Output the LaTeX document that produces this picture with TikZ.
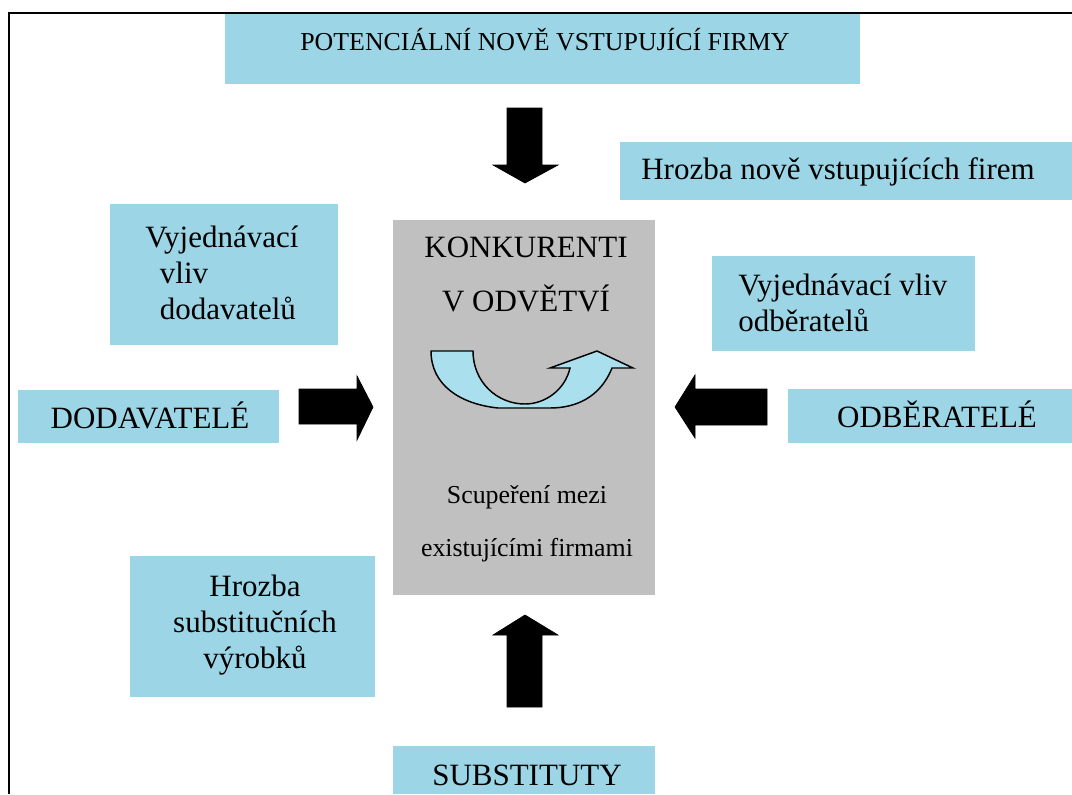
\documentclass[tikz,border=0pt]{standalone}
\usepackage{fontspec}
\setmainfont{Liberation Serif}
\definecolor{boxblue}{RGB}{156,214,230}
\definecolor{boxgrey}{RGB}{192,192,192}
\definecolor{curvecyan}{RGB}{170,224,238}
\begin{document}
\begin{tikzpicture}[x=0.75pt,y=-0.75pt,
  bluebox/.style={fill=boxblue},
  greybox/.style={fill=boxgrey},
  lbl/.style={inner sep=0pt, font=\fontsize{23.25pt}{27pt}\selectfont},
  lblsmall/.style={inner sep=0pt, font=\fontsize{19.4pt}{23pt}\selectfont},
  blockarrow/.style={fill=black, draw=black, line width=0.5pt, line join=miter},
  curvearrow/.style={fill=curvecyan, draw=black, line width=1.1pt, line join=miter}]
\useasboundingbox (0,0) rectangle (1072,794);
\fill[white] (0,0) rectangle (1072,794);
% frame
\draw[line width=1.5pt] (1072,12.5) -- (9,12.5) -- (9,794);
% boxes
\fill[bluebox] (225,14) rectangle (860,84);
\fill[bluebox] (620,142) rectangle (1072,200);
\fill[bluebox] (110,204) rectangle (338,345);
\fill[greybox] (393,220) rectangle (655,595);
\fill[bluebox] (712,256) rectangle (975,351);
\fill[bluebox] (18,390) rectangle (279,443);
\fill[bluebox] (788,389) rectangle (1072,443);
\fill[bluebox] (130,556) rectangle (375,697);
\fill[bluebox] (393,746) rectangle (655,794);
% texts
\node[lblsmall] (potencialni) at (545,40) {POTENCIÁLNÍ NOVĚ VSTUPUJÍCÍ FIRMY};
\node[lbl] (hrozbanove) at (838,172) {Hrozba nově vstupujících firem};
\node[lbl, anchor=west, align=left] (vlivdod) at (145,273) {Vyjednávací\\\hspace*{11pt}vliv\\\hspace*{11pt}dodavatelů};
\node[lbl] (konk1) at (526,247) {KONKURENTI};
\node[lbl] (konk2) at (526,298) {V ODVĚTVÍ};
\node[lbl, anchor=west, align=left] (vlivodb) at (738,303) {Vyjednávací vliv\\odběratelů};
\node[lbl] (dodavatele) at (150,415) {DODAVATELÉ};
\node[lbl] (odberatele) at (937,414) {ODBĚRATELÉ};
\node[lblsmall] (scup1) at (527,497) {Scupeření mezi};
\node[lblsmall] (scup2) at (527,550) {existujícími firmami};
\node[lbl, align=center] (substhrozba) at (255,625) {Hrozba\\substitučních\\výrobků};
\node[lbl] (substituty) at (527,775) {SUBSTITUTY};
% block arrows
\fill[blockarrow] (299,389) -- (357,389) -- (357,376) -- (373,407) -- (357,440) -- (357,424) -- (299,424) -- cycle;
\fill[blockarrow] (767,389) -- (695,389) -- (695,375) -- (675,407) -- (695,438) -- (695,425) -- (767,425) -- cycle;
\fill[blockarrow] (507,108) -- (542,108) -- (542,165) -- (558,165) -- (525,183) -- (493,165) -- (507,165) -- cycle;
\fill[blockarrow] (507,707) -- (542,707) -- (542,635) -- (558,635) -- (525,615) -- (493,635) -- (507,635) -- cycle;
% curved arrow
\filldraw[curvearrow] (431,351) -- (473,351)
  .. controls (473,382) and (497,404) .. (525,404)
  .. controls (545,404) and (565,390) .. (570,368)
  -- (550,368) -- (597,351) -- (633,368) -- (612,368)
  .. controls (600,398) and (575,408) .. (550,408)
  -- (498,408)
  .. controls (460,404) and (431,385) .. (431,351) -- cycle;
\end{tikzpicture}
\end{document}
